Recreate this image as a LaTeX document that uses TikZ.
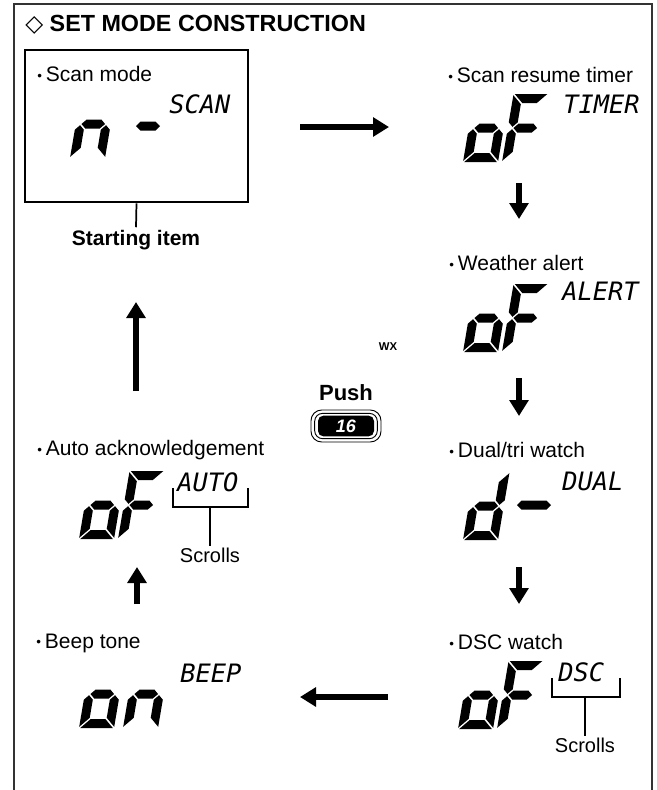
\documentclass[tikz,border=0pt]{standalone}
\usepackage{fontspec}
\setmainfont{Liberation Sans}
\newfontfamily\symfont{DejaVu Sans}
\newfontfamily\lcdfont{DejaVu Sans Mono}
\usetikzlibrary{arrows.meta}

% seven segments, local px units (y up), box 35 x 68, bar 9
\newcommand{\lcda}{\fill (1.2,68) -- (33.8,68) -- (24.8,59) -- (10.2,59) -- cycle;}
\newcommand{\lcdb}{\fill (35,66.8) -- (26,57.8) -- (26,39.7) -- (30.5,35.2) -- (35,39.7) -- cycle;}
\newcommand{\lcdc}{\fill (35,1.2) -- (26,10.2) -- (26,28.3) -- (30.5,32.8) -- (35,28.3) -- cycle;}
\newcommand{\lcdd}{\fill (1.2,0) -- (33.8,0) -- (24.8,9) -- (10.2,9) -- cycle;}
\newcommand{\lcde}{\fill (0,1.2) -- (9,10.2) -- (9,28.3) -- (4.5,32.8) -- (0,28.3) -- cycle;}
\newcommand{\lcdf}{\fill (0,66.8) -- (9,57.8) -- (9,39.7) -- (4.5,35.2) -- (0,39.7) -- cycle;}
\newcommand{\lcdg}{\fill (5.7,34) -- (10.2,38.5) -- (24.8,38.5) -- (29.3,34) -- (24.8,29.5) -- (10.2,29.5) -- cycle;}
\newcommand{\lcddigit}[3]{\begin{scope}[shift={(#1,#2)},x=.75pt,y=.75pt,xslant=.17]
    \foreach \s in {#3} {\csname lcd\s\endcsname}
  \end{scope}}
\newcommand{\lcddash}[3]{\begin{scope}[shift={(#1,#2)},x=.75pt,y=.75pt]
    \fill (-#3,0) -- (-#3+4.5,4.5) -- (#3-4.5,4.5) -- (#3,0) -- (#3-4.5,-4.5) -- (-#3+4.5,-4.5) -- cycle;
  \end{scope}}
\newcommand{\itm}{\raisebox{1pt}{\fontsize{10}{10}\selectfont\textbullet}\hspace{3pt}}

\begin{document}
\begin{tikzpicture}[x=.75pt,y=-.75pt,>={Triangle[length=12pt,width=14pt]},
    lbl/.style={anchor=west,inner sep=0pt,font=\fontsize{15.75}{18}\selectfont},
    lcdword/.style={anchor=west,inner sep=0pt,font=\lcdfont\itshape\fontsize{19}{20}\selectfont},
    scrolls/.style={inner sep=1pt,font=\fontsize{15}{17}\selectfont},
    flow/.style={->,line width=4pt}]
  \useasboundingbox (0,0) rectangle (657,790);
  % frame and title
  \draw[black!80,line width=1.1pt] (14,790) -- (14,4) -- (652,4) -- (652,790);
  \node[anchor=west,inner sep=0pt,font=\bfseries\fontsize{17.5}{20}\selectfont] (title) at (25,25)
    {{\symfont\bfseries ◇} SET MODE CONSTRUCTION};

  % starting item
  \node[draw,line width=2pt,minimum width=167.25pt,minimum height=114pt,inner sep=0pt] (scanbox) at (136.5,126) {};
  \node[inner sep=2pt,font=\bfseries\fontsize{15.75}{18}\selectfont] (start) at (136,240) {Starting item};
  \draw[line width=1.3pt] (scanbox.south) -- (start.north);

  % items
  \node[lbl] (scanlbl) at (37,74) {\itm Scan mode};
  \lcddigit{70}{158}{c,e,g}
  \lcddash{148}{126}{12}
  \node[lcdword] (scanw) at (169,104) {SCAN};

  \node[lbl] (timerlbl) at (448,75) {\itm Scan resume timer};
  \lcddigit{463}{162}{c,d,e,g}
  \lcddigit{502}{162}{a,e,f,g}
  \node[lcdword] (timerw) at (563,104) {TIMER};

  \node[lbl] (wxlbl) at (449,263) {\itm Weather alert};
  \lcddigit{463}{352}{c,d,e,g}
  \lcddigit{502}{352}{a,e,f,g}
  \node[lcdword] (alertw) at (562,291) {ALERT};
  \node[inner sep=0pt,font=\bfseries\fontsize{8.5}{9}\selectfont] (wx) at (388,347) {WX};

  \node[lbl] (duallbl) at (449,450) {\itm Dual/tri watch};
  \lcddigit{463}{540}{b,c,d,e,g}
  \lcddash{534}{505}{17}
  \node[lcdword] (dualw) at (562,481) {DUAL};

  \node[lbl] (dsclbl) at (449,642) {\itm DSC watch};
  \lcddigit{458}{729}{c,d,e,g}
  \lcddigit{497}{729}{a,e,f,g}
  \node[lcdword] (dscw) at (558,672) {DSC};
  \draw[line width=.8pt] (552,678) -- (552,697) -- (620,697) -- (620,678);
  \coordinate (dscbr) at (585,697);
  \node[scrolls] (dscscr) at (585,745) {Scrolls};
  \draw[line width=.8pt] (dscbr) -- (dscscr.north);

  \node[lbl] (beeplbl) at (36,643) {\itm Beep tone};
  \lcddigit{79}{728}{c,d,e,g}
  \lcddigit{123}{728}{c,e,g}
  \node[lcdword] (beepw) at (180,673) {BEEP};

  \node[lbl] (autolbl) at (37,450) {\itm Auto acknowledgement};
  \lcddigit{79}{539}{c,d,e,g}
  \lcddigit{118}{539}{a,e,f,g}
  \node[lcdword] (autow) at (177,482) {AUTO};
  \draw[line width=.8pt] (173,488) -- (173,507) -- (248,507) -- (248,488);
  \coordinate (autobr) at (210,507);
  \node[scrolls] (autoscr) at (210,555) {Scrolls};
  \draw[line width=.8pt] (autobr) -- (autoscr.north);

  % push key
  \node[font=\bfseries\fontsize{16.5}{18}\selectfont,inner sep=0pt] (push) at (346,393) {Push};
  \node[draw,line width=.7pt,rounded corners=8pt,minimum width=52.5pt,minimum height=24pt] (keyout) at (346,426) {};
  \node[draw,line width=.7pt,rounded corners=6pt,minimum width=47pt,minimum height=19pt] (keymid) at (keyout) {};
  \node[fill=black,text=white,rounded corners=4pt,minimum width=42pt,minimum height=15.5pt,inner sep=0pt,
    font=\bfseries\itshape\fontsize{13.5}{14}\selectfont] (key) at (keyout) {16};

  % flow arrows
  \coordinate (r1s) at (300,127); \coordinate (r1e) at (389,127);
  \coordinate (d1s) at (519,183); \coordinate (d1e) at (519,219);
  \coordinate (d2s) at (519,378); \coordinate (d2e) at (519,416);
  \coordinate (d3s) at (519,567); \coordinate (d3e) at (519,604);
  \coordinate (l1s) at (388,697); \coordinate (l1e) at (300,697);
  \coordinate (u1s) at (137,604); \coordinate (u1e) at (137,567);
  \coordinate (u2s) at (136,391); \coordinate (u2e) at (136,302);
  \foreach \a in {r1,d1,d2,d3,l1,u1,u2} \draw[flow] (\a s) -- (\a e);
\end{tikzpicture}
\end{document}
